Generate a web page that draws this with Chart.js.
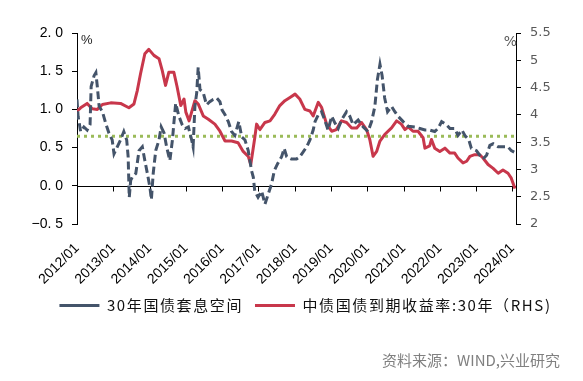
<!DOCTYPE html>
<html>
<head>
<meta charset="utf-8">
<script src="https://cdn.jsdelivr.net/npm/chart.js@4/dist/chart.umd.min.js"></script>
<style>
html,body{margin:0;padding:0;background:#fff;}
#wrap{position:relative;width:583px;height:381px;overflow:hidden;}
#c{position:absolute;left:0;top:0;}
#source{position:absolute;right:23px;top:351px;font-family:"Noto Sans CJK SC",sans-serif;font-size:15px;line-height:18px;color:#808080;white-space:nowrap;}
</style>
</head>
<body>
<div id="wrap">
<canvas id="c" width="583" height="381"></canvas>
<div id="source">资料来源：WIND,兴业研究</div>
</div>
<script>
// ---- data ----
const yearTicks = [2012, 2013, 2014, 2015, 2016, 2017, 2018, 2019, 2020, 2021, 2022, 2023, 2024];
const tickLabels = ['2012/01','2013/01','2014/01','2015/01','2016/01','2017/01','2018/01','2019/01','2020/01','2021/01','2022/01','2023/01','2024/01'];

const seriesNames = ['30年国债套息空间', '中债国债到期收益率:30年（RHS)'];

// 30年国债套息空间 (left axis, %)
const spreadX = [2012.00,2012.03,2012.10,2012.19,2012.28,2012.36,2012.39,2012.47,2012.52,2012.56,2012.61,2012.70,2012.79,2012.88,2012.97,
2013.02,2013.11,2013.20,2013.29,2013.37,2013.41,2013.44,2013.48,2013.52,2013.62,2013.71,2013.80,2013.87,2013.94,
2014.01,2014.05,2014.10,2014.17,2014.26,2014.32,2014.40,2014.47,2014.56,2014.63,2014.67,2014.72,2014.81,2014.90,2014.98,
2015.07,2015.16,2015.20,2015.25,2015.30,2015.34,2015.39,2015.48,2015.57,2015.66,2015.75,2015.85,2015.94,
2016.00,2016.08,2016.17,2016.26,2016.35,2016.46,2016.54,2016.63,2016.72,2016.81,2016.86,2016.90,2016.99,
2017.09,2017.18,2017.27,2017.36,2017.44,2017.53,2017.64,2017.71,2017.78,2017.91,
2018.05,2018.14,2018.23,2018.33,2018.42,2018.51,2018.56,2018.65,2018.74,2018.83,2018.92,
2019.02,2019.11,2019.20,2019.29,2019.43,2019.52,2019.61,2019.75,2019.89,
2020.02,2020.12,2020.21,2020.28,2020.35,2020.41,2020.48,2020.56,2020.67,2020.76,2020.85,2020.99,
2021.13,2021.31,2021.45,2021.59,2021.72,2021.86,2021.95,
2022.05,2022.18,2022.28,2022.41,2022.50,2022.61,2022.69,2022.80,2022.87,
2023.01,2023.10,2023.19,2023.29,2023.38,2023.47,2023.61,2023.74,2023.88,2023.97,2024.05];
const spreadValues = [1.13,0.91,0.71,0.77,0.73,0.80,1.30,1.44,1.48,1.30,1.04,0.97,0.82,0.69,0.60,
0.42,0.51,0.60,0.71,0.60,0.38,-0.15,0.07,0.11,0.16,0.46,0.51,0.33,0.16,
-0.02,-0.18,0.16,0.46,0.60,0.77,0.69,0.51,0.33,0.60,0.82,1.08,0.91,0.80,0.75,
0.77,0.60,0.51,1.04,1.22,1.55,1.26,1.22,1.06,1.10,1.13,1.15,1.10,
0.99,0.93,0.84,0.71,0.66,0.84,0.64,0.60,0.46,0.20,0.11,-0.07,-0.15,
-0.07,-0.24,-0.11,0.02,0.20,0.29,0.38,0.49,0.38,0.35,
0.35,0.38,0.44,0.51,0.60,0.73,0.84,0.93,0.97,0.86,0.73,
0.91,0.82,0.75,0.86,0.97,0.91,0.80,0.86,0.77,
0.71,0.84,1.04,1.39,1.59,1.44,1.15,0.97,1.04,0.97,0.91,0.84,
0.78,0.77,0.75,0.73,0.73,0.71,0.75,
0.84,0.80,0.75,0.75,0.66,0.73,0.66,0.60,0.49,
0.46,0.40,0.35,0.40,0.53,0.55,0.51,0.51,0.51,0.46,0.44];

// 中债国债到期收益率:30年 (right axis, %)
const yieldX = [2012.00,2012.10,2012.28,2012.42,2012.56,2012.70,2012.93,
2013.20,2013.43,2013.57,2013.66,2013.75,2013.87,2013.98,
2014.12,2014.26,2014.35,2014.44,2014.53,2014.67,2014.76,2014.86,2014.95,
2015.00,2015.09,2015.25,2015.34,2015.48,2015.62,2015.80,2015.94,
2016.08,2016.26,2016.44,2016.58,2016.72,2016.79,2016.90,2016.95,
2017.04,2017.18,2017.32,2017.45,2017.59,2017.73,2017.87,
2018.01,2018.14,2018.28,2018.42,2018.51,2018.65,2018.74,2018.88,
2019.02,2019.15,2019.29,2019.43,2019.57,2019.71,2019.84,2019.98,
2020.07,2020.16,2020.26,2020.35,2020.48,2020.67,2020.81,2020.94,
2021.04,2021.13,2021.26,2021.40,2021.54,2021.59,2021.72,2021.77,2021.86,
2022.00,2022.14,2022.28,2022.41,2022.50,2022.64,2022.74,2022.83,2022.96,
2023.10,2023.19,2023.33,2023.47,2023.61,2023.74,2023.88,2023.97,2024.07];
const yieldValues = [4.07,4.13,4.21,4.11,4.10,4.19,4.22,
4.21,4.13,4.20,4.44,4.75,5.12,5.20,
5.09,5.03,4.81,4.54,4.78,4.78,4.51,4.17,4.29,
4.05,3.89,4.26,4.20,3.98,3.92,3.83,3.70,
3.52,3.52,3.49,3.33,3.24,3.09,3.58,3.83,
3.73,3.86,3.89,4.01,4.17,4.26,4.32,
4.38,4.29,4.10,4.07,3.98,4.23,4.14,3.83,
3.70,3.73,3.89,3.86,3.76,3.76,3.86,3.73,
3.55,3.24,3.33,3.52,3.64,3.76,3.89,3.83,
3.73,3.78,3.70,3.70,3.58,3.39,3.43,3.55,3.39,
3.33,3.39,3.30,3.30,3.21,3.12,3.15,3.24,3.27,
3.27,3.21,3.09,3.02,2.93,2.99,2.93,2.84,2.65];

// reference level (left axis)
const avgX = [2012, 2024.1];
const avgValues = [0.65, 0.65];

const leftTicks = [-0.5, 0, 0.5, 1, 1.5, 2];
const rightTicks = [2, 2.5, 3, 3.5, 4, 4.5, 5, 5.5];

// ---- chart ----
const toPts = (xs, ys) => xs.map((x, i) => ({x: x, y: ys[i]}));
const LETTER_SPACING = '1.6px';
const LEGEND_DX = 14;

const legendPatch = {
  id: 'legendPatch',
  afterInit(chart) {
    const lg = chart.legend;
    if (!lg) return;
    const origFit = lg.fit.bind(lg);
    lg.fit = function () {
      const c = chart.ctx; c.save(); c.letterSpacing = LETTER_SPACING; origFit(); c.restore();
    };
    const origDraw = lg.draw.bind(lg);
    lg.draw = function () {
      const c = chart.ctx; c.save(); c.letterSpacing = LETTER_SPACING; c.translate(LEGEND_DX, 0); origDraw(); c.restore();
    };
  }
};

const zeroAxis = {
  id: 'zeroAxis',
  beforeDatasetsDraw(chart) {
    const {ctx, chartArea, scales} = chart;
    const y0 = Math.round(scales.y.getPixelForValue(0)) + 0.5;
    ctx.save();
    ctx.strokeStyle = '#000';
    ctx.lineWidth = 1;
    ctx.beginPath();
    ctx.moveTo(chartArea.left, y0);
    ctx.lineTo(chartArea.right, y0);
    scales.x.ticks.forEach(t => {
      const px = Math.round(scales.x.getPixelForValue(t.value)) + 0.5;
      ctx.moveTo(px, y0);
      ctx.lineTo(px, y0 + 5);
    });
    ctx.stroke();
    ctx.restore();
  },
  afterDraw(chart) {
    const {ctx, chartArea} = chart;
    ctx.save();
    ctx.textBaseline = 'middle';
    ctx.font = '13px "Liberation Sans", Arial, sans-serif';
    ctx.fillStyle = '#222';
    ctx.textAlign = 'left';
    ctx.fillText('%', chartArea.left + 4, chartArea.top + 7);
    ctx.fillStyle = '#595959';
    ctx.font = '14px "DejaVu Sans", sans-serif';
    ctx.textAlign = 'right';
    ctx.fillText('%', chartArea.right + 1, chartArea.top + 9);
    ctx.restore();
  }
};

new Chart(document.getElementById('c'), {
  type: 'line',
  data: {
    datasets: [
      {
        label: seriesNames[0],
        data: toPts(spreadX, spreadValues),
        yAxisID: 'y',
        borderColor: '#44546A',
        backgroundColor: '#44546A',
        borderWidth: 3,
        borderDash: [8, 4],
        pointRadius: 0,
        tension: 0,
        fill: false
      },
      {
        label: seriesNames[1],
        data: toPts(yieldX, yieldValues),
        yAxisID: 'y1',
        borderColor: '#C8374B',
        backgroundColor: '#C8374B',
        borderWidth: 3,
        pointRadius: 0,
        tension: 0,
        borderJoinStyle: 'round',
        fill: false
      },
      {
        label: 'avg',
        data: toPts(avgX, avgValues),
        yAxisID: 'y',
        borderColor: '#9BBB59',
        borderWidth: 3,
        borderDash: [3, 4],
        pointRadius: 0,
        fill: false
      }
    ]
  },
  options: {
    responsive: false,
    animation: false,
    devicePixelRatio: 1,
    layout: { padding: { top: 33, left: 0, right: 0, bottom: 58 } },
    plugins: {
      tooltip: { enabled: false },
      legend: {
        position: 'bottom',
        labels: {
          usePointStyle: true,
          pointStyle: 'line',
          pointStyleWidth: 40,
          padding: 12,
          color: '#111',
          font: { family: '"Noto Sans CJK SC", sans-serif', size: 15 },
          filter: item => item.datasetIndex < 2
        }
      }
    },
    scales: {
      x: {
        type: 'linear',
        min: 2012,
        max: 2024.1,
        afterBuildTicks: s => { s.ticks = yearTicks.map(v => ({value: v})); },
        afterFit: s => { s.height = 62; },
        grid: { display: false, drawTicks: false },
        border: { display: false },
        ticks: {
          autoSkip: false,
          maxRotation: 45,
          minRotation: 45,
          padding: 16,
          color: '#000',
          font: { family: '"Liberation Sans", Arial, sans-serif', size: 14 },
          callback: v => tickLabels[yearTicks.indexOf(v)]
        }
      },
      y: {
        position: 'left',
        min: -0.5,
        max: 2,
        afterBuildTicks: s => { s.ticks = leftTicks.map(v => ({value: v})); },
        afterFit: s => { s.width = 77; },
        grid: { drawOnChartArea: false, drawTicks: true, tickLength: 5, color: '#000' },
        border: { display: true, color: '#000', width: 1 },
        ticks: {
          padding: 9,
          color: '#000',
          font: { family: '"Liberation Sans", Arial, sans-serif', size: 14 },
          callback: v => v.toFixed(1).replace('.', '. ').replace('-', '\u2212')
        }
      },
      y1: {
        position: 'right',
        min: 2,
        max: 5.5,
        afterBuildTicks: s => { s.ticks = rightTicks.map(v => ({value: v})); },
        afterFit: s => { s.width = 67; },
        grid: { drawOnChartArea: false, drawTicks: true, tickLength: 5, color: '#000' },
        border: { display: true, color: '#000', width: 1 },
        ticks: {
          padding: 9,
          color: '#595959',
          font: { family: '"DejaVu Sans", sans-serif', size: 13 },
          callback: v => String(v)
        }
      }
    }
  },
  plugins: [legendPatch, zeroAxis]
});
</script>
</body>
</html>
